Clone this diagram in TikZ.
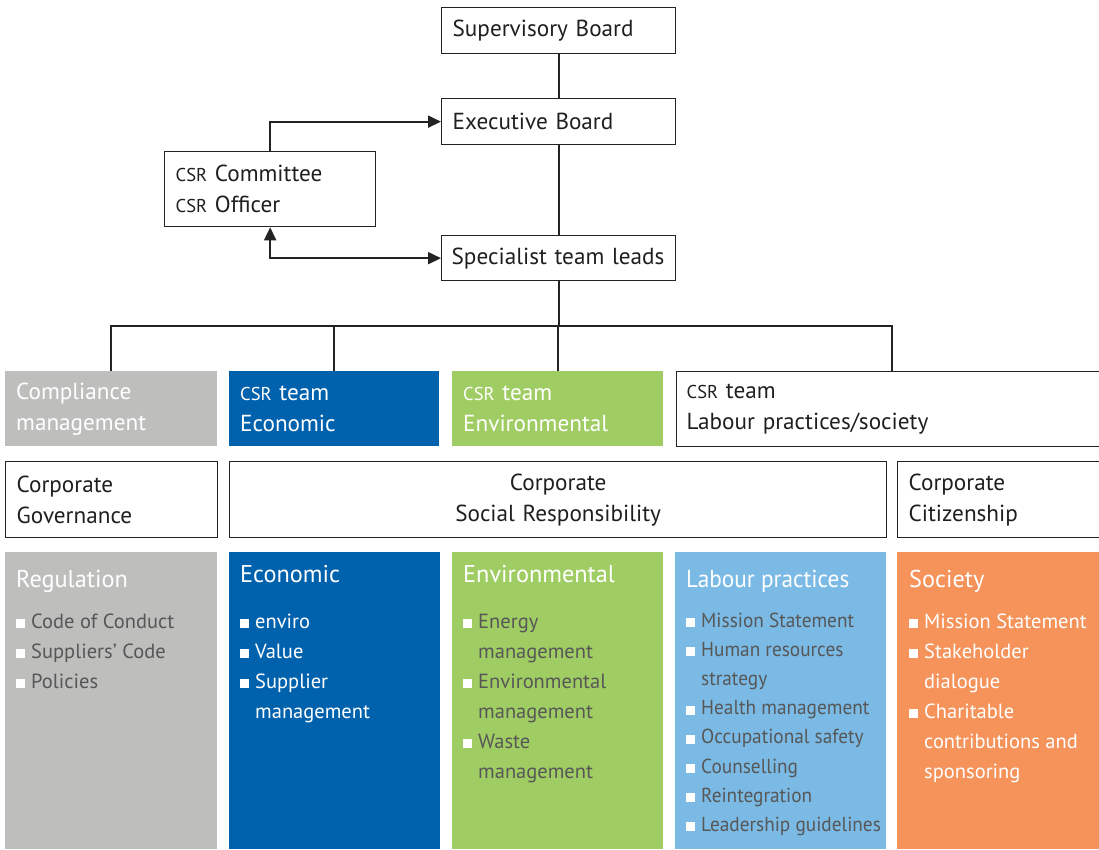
\documentclass[tikz,border=0pt]{standalone}
\usepackage{fontspec}
\setmainfont{PT Sans}
\newfontfamily\narrowsf[FakeStretch=0.95]{PT Sans}
\usetikzlibrary{arrows.meta,calc}

\definecolor{ecoblue}{HTML}{0061AD}
\definecolor{envgreen}{HTML}{A0CD63}
\definecolor{labblue}{HTML}{7ABAE5}
\definecolor{socorange}{HTML}{F5935A}
\definecolor{compgray}{HTML}{BEBEBD}
\definecolor{itemgray}{HTML}{575757}
\definecolor{linegray}{HTML}{232323}

\newcommand\csr{\scalebox{0.8}{CSR}}
\newcommand\sqb{\rule{9pt}{9pt}}

\tikzset{
  orgbox/.style={draw=linegray, line width=1.3pt, anchor=north west, inner xsep=11pt, inner ysep=0pt, align=left, font=\fontsize{23.2}{31}\selectfont, text=black!88},
  teambox/.style={anchor=north west, inner xsep=11pt, inner ysep=0pt, align=left, font=\fontsize{23.2}{31}\selectfont, text=white, minimum height=75pt},
  colbox/.style={anchor=north west, inner sep=0pt, minimum height=297pt},
  link/.style={linegray, line width=1.8pt},
  head/.style={font=\fontsize{24.3}{28}\selectfont, text=white, anchor=base west, inner sep=0pt},
  item/.style={font=\fontsize{20.5}{30}\selectfont, anchor=base west, inner sep=0pt},
}

\begin{document}
\begin{tikzpicture}[x=1pt, y=-1pt]
  \useasboundingbox (0,0) rectangle (1099,849);

  % management
  \node[orgbox, text width=212pt, minimum height=46pt] (sup) at (441,7) {Supervisory Board};
  \node[orgbox, text width=212pt, minimum height=46pt] (exec) at (441,98) {Executive Board};
  \node[orgbox, text width=189pt, minimum height=75pt] (csrc) at (164,151) {\csr{} Committee\\\csr{} Officer};
  \node[orgbox, inner xsep=10pt, text width=214pt, minimum height=45pt] (spec) at (441,235) {Specialist team leads};

  % teams
  \node[teambox, fill=compgray, text width=190pt] (comp) at (5,371) {Compliance\\management};
  \node[teambox, fill=ecoblue, text width=188pt] (econ) at (229,371) {\csr{} team\\Economic};
  \node[teambox, fill=envgreen, text width=189pt] (envt) at (452,371) {\csr{} team\\Environmental};
  \node[orgbox, inner xsep=10pt, text width=410pt, minimum height=75pt] (labt) at (676,371) {\csr{} team\\Labour practices/society};

  % fields
  \node[orgbox, text width=190pt, minimum height=76pt] (gov) at (5,461) {Corporate\\Governance};
  \node[orgbox, align=center, text width=635pt, minimum height=76pt] (csrf) at (229,461) {Corporate\\Social Responsibility};
  \node[orgbox, text width=193pt, minimum height=76pt] (cit) at (897,461) {Corporate\\Citizenship};

  % connectors
  \coordinate (bus) at (559,326);
  \draw[link] (sup) -- (exec);
  \draw[link] (exec) -- (spec);
  \draw[link] (spec.south) -- (spec.south |- bus);
  \draw[link] (comp.north) |- (bus) -| (labt.north);
  \draw[link] (econ.north) -- (econ.north |- bus);
  \draw[link] (envt.north) -- (envt.north |- bus);
  \draw[link, -{Triangle[length=13pt, width=12pt]}] (csrc.north) |- (exec.west);
  \draw[link, {Triangle[length=13pt, width=12pt]}-{Triangle[length=13pt, width=12pt]}] (csrc.south) |- (spec.west);

  % columns
  \node[colbox, fill=compgray, minimum width=212pt] (reg) at (5,552) {};
  \node[colbox, fill=ecoblue, minimum width=211pt] (eco) at (229,552) {};
  \node[colbox, fill=envgreen, minimum width=211pt] (env) at (452,552) {};
  \node[colbox, fill=labblue, minimum width=211pt] (lab) at (675,552) {};
  \node[colbox, fill=socorange, minimum width=210pt] (soc) at (897,552) {};

  \node[head] (regt) at ($(reg.north west)+(11,35)$) {Regulation};
  \node[head] (ecot) at ($(eco.north west)+(11,30)$) {Economic};
  \node[head] (envt2) at ($(env.north west)+(11,30)$) {Environmental};
  \node[head, font=\narrowsf\fontsize{24.5}{28}\selectfont] (labtt) at ($(lab.north west)+(11,35)$) {Labour practices};
  \node[head] (soct) at ($(soc.north west)+(12,35)$) {Society};

  \foreach \b/\t [count=\i] in {1/Code of Conduct, 1/Suppliers' Code, 1/Policies}
    \node[item, text=itemgray] (reg\i) at ($(reg.north west)+(26,46+30*\i)$) {\ifnum\b=1 \llap{\color{white}\sqb\hspace{6pt}}\fi\t};
  \foreach \b/\t [count=\i] in {1/enviro, 1/Value, 1/Supplier, 0/management}
    \node[item, text=white] (eco\i) at ($(eco.north west)+(26,46+30*\i)$) {\ifnum\b=1 \llap{\color{white}\sqb\hspace{6pt}}\fi\t};
  \foreach \b/\t [count=\i] in {1/Energy, 0/management, 1/Environmental, 0/management, 1/Waste, 0/management}
    \node[item, text=itemgray] (env\i) at ($(env.north west)+(26,46+30*\i)$) {\ifnum\b=1 \llap{\color{white}\sqb\hspace{6pt}}\fi\t};
  \foreach \b/\t [count=\i] in {1/Mission Statement, 1/Human resources, 0/strategy, 1/Health management, 1/Occupational safety, 1/Counselling, 1/Reintegration, 1/Leadership guidelines}
    \node[item, text=itemgray, font=\narrowsf\fontsize{20.3}{30}\selectfont] (lab\i) at ($(lab.north west)+(26,45.8+29.2*\i)$) {\ifnum\b=1 \llap{\color{white}\sqb\hspace{6pt}}\fi\t};
  \foreach \b/\t [count=\i] in {1/Mission Statement, 1/Stakeholder, 0/dialogue, 1/Charitable, 0/contributions and, 0/sponsoring}
    \node[item, text=white] (soc\i) at ($(soc.north west)+(27,46+30*\i)$) {\ifnum\b=1 \llap{\color{white}\sqb\hspace{6pt}}\fi\t};
\end{tikzpicture}
\end{document}
